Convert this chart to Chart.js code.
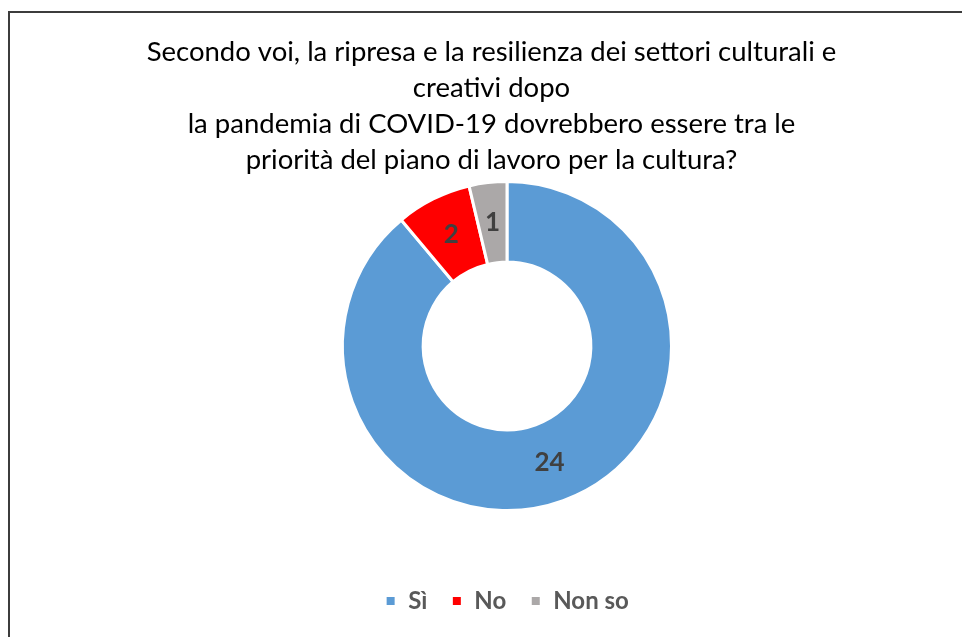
<!DOCTYPE html>
<html>
<head>
<meta charset="utf-8">
<script src="https://cdn.jsdelivr.net/npm/chart.js@4/dist/chart.umd.min.js"></script>
<style>
  html, body { margin: 0; padding: 0; background: #fff; }
  #wrap { position: relative; width: 962px; height: 637px; overflow: hidden; }
  #frame { position: absolute; left: 8px; top: 11px; width: 1000px; height: 700px;
           border: 2px solid #3c3c3c; pointer-events: none; }
  canvas { position: absolute; left: 0; top: 0; }
</style>
</head>
<body>
<div id="wrap">
  <canvas id="c" width="962" height="637"></canvas>
  <div id="frame"></div>
</div>
<script>
const titleLines = [
  'Secondo voi, la ripresa e la resilienza dei settori culturali e',
  'creativi dopo',
  'la pandemia di COVID-19 dovrebbero essere tra le',
  'priorità del piano di lavoro per la cultura?'
];
const categories = ['Sì', 'No', 'Non so'];
const answers = [24, 2, 1];
const sliceColors = ['#5B9BD5', '#FF0000', '#ABA8A8'];

const FONT = "Lato, 'Open Sans', 'Liberation Sans', sans-serif";

// Writes each answer count in the middle of its ring segment
const sliceLabels = {
  id: 'sliceLabels',
  afterDatasetsDraw(chart) {
    const ctx = chart.ctx;
    const meta = chart.getDatasetMeta(0);
    ctx.save();
    ctx.font = 'bold 26px ' + FONT;
    ctx.fillStyle = '#404040';
    ctx.textAlign = 'center';
    ctx.textBaseline = 'middle';
    meta.data.forEach((arc, i) => {
      const p = arc.tooltipPosition();
      ctx.fillText(String(chart.data.datasets[0].data[i]), p.x, p.y);
    });
    ctx.restore();
  }
};

// Empty layout box that keeps a gap between the ring and the legend,
// plus a small leftward nudge of the title block
const ringSpacing = {
  id: 'ringSpacing',
  beforeInit(chart) {
    Chart.layouts.addBox(chart, {
      position: 'bottom',
      weight: 500,
      fullSize: true,
      options: {},
      update(maxWidth) { this.width = maxWidth; this.height = 53; },
      isHorizontal() { return true; },
      draw() {}
    });
  },
  afterLayout(chart) {
    const t = chart.titleBlock;
    if (t) { t.left -= 15.5; t.right -= 15.5; }
  }
};

new Chart(document.getElementById('c'), {
  type: 'doughnut',
  data: {
    labels: categories,
    datasets: [{
      data: answers,
      backgroundColor: sliceColors,
      borderColor: '#ffffff',
      borderWidth: 3,
      hoverOffset: 0
    }]
  },
  options: {
    responsive: false,
    animation: false,
    cutout: '51%',
    layout: { padding: { top: 0, bottom: 14, left: 52, right: 0 } },
    plugins: {
      title: {
        display: true,
        text: titleLines,
        color: '#000000',
        font: { family: FONT, size: 27.5, weight: 'normal', lineHeight: 36 / 27.5 },
        padding: { top: 34, bottom: 2 }
      },
      legend: {
        position: 'bottom',
        labels: {
          color: '#595959',
          font: { family: FONT, size: 24, weight: 'bold' },
          boxWidth: 11,
          boxHeight: 11,
          padding: 24
        }
      },
      tooltip: { enabled: false }
    }
  },
  plugins: [sliceLabels, ringSpacing]
});
</script>
</body>
</html>
